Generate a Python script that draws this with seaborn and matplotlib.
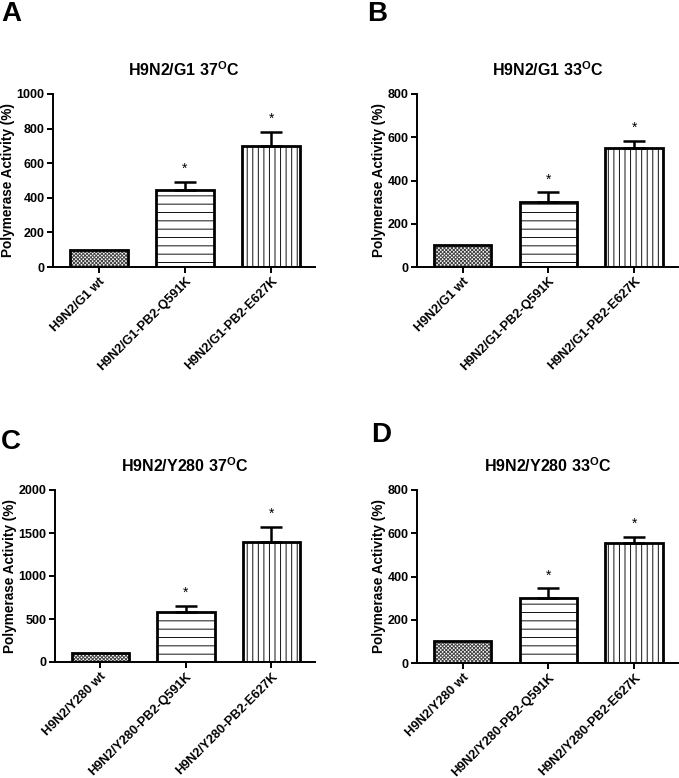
import matplotlib
matplotlib.use("Agg")
import matplotlib.pyplot as plt
import seaborn as sns
import pandas as pd
import numpy as np

# ---------------- data ----------------
cats_g1 = ["H9N2/G1 wt", "H9N2/G1-PB2-Q591K", "H9N2/G1-PB2-E627K"]
cats_y280 = ["H9N2/Y280 wt", "H9N2/Y280-PB2-Q591K", "H9N2/Y280-PB2-E627K"]

g1_37_mean = [100, 443, 700]
g1_37_err = [0, 47, 80]
g1_33_mean = [100, 301, 552]
g1_33_err = [0, 44, 30]
y280_37_mean = [100, 585, 1390]
y280_37_err = [0, 65, 180]
y280_33_mean = [100, 302, 553]
y280_33_err = [0, 43, 30]

titles = ["H9N2/G1 37$^{\\mathbf{O}}$C", "H9N2/G1 33$^{\\mathbf{O}}$C",
          "H9N2/Y280 37$^{\\mathbf{O}}$C", "H9N2/Y280 33$^{\\mathbf{O}}$C"]
letters = ["A", "B", "C", "D"]
ymaxes = [1000, 800, 2000, 800]
yticks = [[0, 200, 400, 600, 800, 1000], [0, 200, 400, 600, 800],
          [0, 500, 1000, 1500, 2000], [0, 200, 400, 600, 800]]
ylabel = "Polymerase Activity (%)"

# ---------------- style ----------------
sns.set_style("ticks")
plt.rcParams["font.family"] = ["Liberation Sans", "DejaVu Sans"]
plt.rcParams["font.weight"] = "bold"
plt.rcParams["mathtext.fontset"] = "custom"
plt.rcParams["mathtext.rm"] = "Liberation Sans:bold"
plt.rcParams["mathtext.bf"] = "Liberation Sans:bold"
plt.rcParams["mathtext.it"] = "Liberation Sans:bold"
plt.rcParams["hatch.linewidth"] = 0.7
for k in ["text.color", "axes.labelcolor", "xtick.color", "ytick.color",
          "axes.edgecolor"]:
    plt.rcParams[k] = "black"

W, H = 679, 778
fig = plt.figure(figsize=(W / 100, H / 100), dpi=100)

# axes rects in pixels: left, right, top, bottom
rects_px = [(53, 315, 94, 267), (417, 678, 94, 267),
            (55, 315, 490, 662), (417, 678, 490, 663)]
letter_px = [(1, 21), (367, 21), (1, 449), (371, 442)]

panels = [
    (cats_g1, g1_37_mean, g1_37_err),
    (cats_g1, g1_33_mean, g1_33_err),
    (cats_y280, y280_37_mean, y280_37_err),
    (cats_y280, y280_33_mean, y280_33_err),
]

hatches = ["xxxxxxxxx", "--", "|||"]
hatch_colors = ["#444444", "#111111", "#111111"]

for i, ((cats, means, errs), (l, r, t, b)) in enumerate(zip(panels, rects_px)):
    ax = fig.add_axes([l / W, 1 - b / H, (r - l) / W, (b - t) / H])
    df = pd.DataFrame({"group": cats, "value": means})
    # hatched fill layer
    sns.barplot(data=df, x="group", y="value", ax=ax, width=0.67,
                color="white", errorbar=None, linewidth=0, edgecolor="#333333")
    for p, h, hc in zip(ax.patches, hatches, hatch_colors):
        p.set_hatch(h)
        p.set_edgecolor(hc)
        p.set_linewidth(0)
    # outline layer
    sns.barplot(data=df, x="group", y="value", ax=ax, width=0.67,
                fill=False, errorbar=None, linewidth=2.0, edgecolor="black")
    # upper error bars
    xs = np.arange(len(cats))
    ax.errorbar(xs[1:], means[1:], yerr=[np.zeros(len(cats) - 1), errs[1:]],
                fmt="none", ecolor="black", elinewidth=1.8, capsize=8,
                capthick=1.8, zorder=1)
    ymax = ymaxes[i]
    for x, m, e in zip(xs[1:], means[1:], errs[1:]):
        ax.text(x, m + e + 0.075 * ymax, "*", ha="center", va="center",
                fontsize=10, fontweight="normal")
    ax.set_ylim(0, ymax)
    ax.set_xlim(-0.53, 2.51)
    ax.set_yticks(yticks[i])
    ax.set_xlabel("")
    ax.set_ylabel(ylabel, fontsize=9.8, fontweight="bold", labelpad=1)
    ax.set_title(titles[i], fontsize=11.5, fontweight="bold", pad=13)
    ax.set_xticks(xs)
    ax.set_xticklabels(cats, rotation=45, ha="right", rotation_mode="anchor",
                       fontsize=9.2, fontweight="bold")
    for lab in ax.get_yticklabels():
        lab.set_fontsize(9)
        lab.set_fontweight("bold")
    ax.tick_params(axis="both", length=4, width=1.4, pad=2)
    sns.despine(ax=ax)
    for s in ["left", "bottom"]:
        ax.spines[s].set_linewidth(1.4)
    lx, ly = letter_px[i]
    fig.text(lx / W, 1 - ly / H, letters[i], fontsize=20, fontweight="bold",
             ha="left", va="baseline")

fig.savefig("out.png", dpi=100)
